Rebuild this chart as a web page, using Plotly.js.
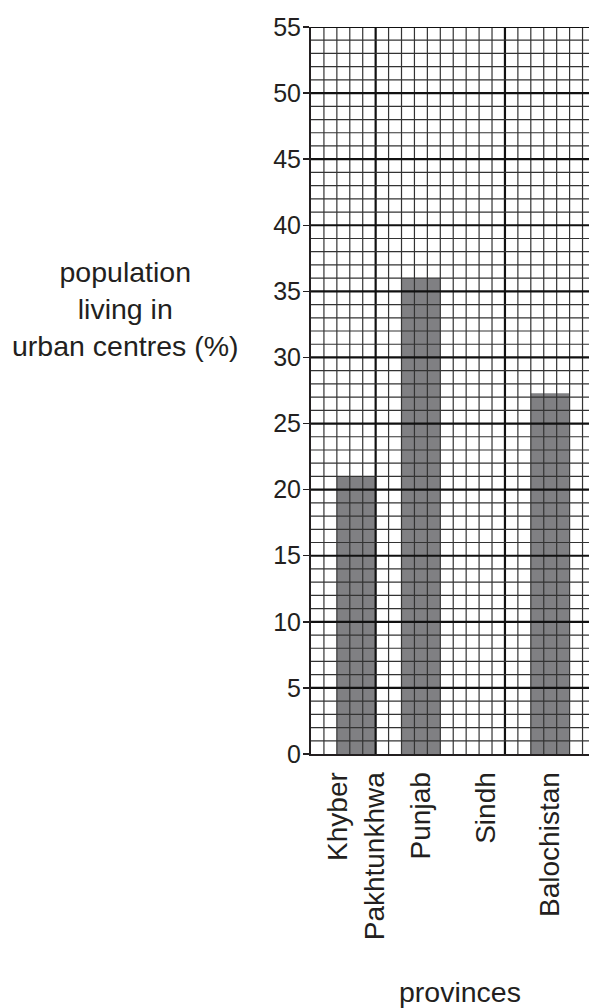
<!DOCTYPE html>
<html><head><meta charset="utf-8">
<script src="https://cdn.plot.ly/plotly-3.0.1.min.js"></script>
<style>html,body{margin:0;padding:0;background:#fff}#chart{width:589px;height:1008px}</style>
</head><body><div id="chart"></div>
<script>
// Data
const provinces = ['Khyber<br>Pakhtunkhwa', 'Punjab', 'Sindh', 'Balochistan'];
const urbanPercent = [21, 36, null, 27.3];
const yTickVals = [0, 5, 10, 15, 20, 25, 30, 35, 40, 45, 50, 55];
const yTickText = ['0', '5', '10', '15', '20', '25', '30', '35', '40', '45', '50', '55'];

// Graph-paper geometry (each category spans 5 small squares)
const squaresPerCat = 5, firstCentre = 3.5, nCols = 21, colsShown = 21.5, yMax = 55;
const toCat = g => (g - firstCentre) / squaresPerCat;
const FONT = 'Liberation Sans, Arial, sans-serif';
const INK = '#231f20';

const shapes = [];
for (let g = 1; g <= nCols; g++) {
  const major = (g === 5 || g === 15);
  shapes.push({type: 'line', layer: 'above', xref: 'x', yref: 'y',
    x0: toCat(g), x1: toCat(g), y0: 0, y1: yMax,
    line: {color: major ? '#111' : '#333', width: major ? 2.2 : 1.2}});
}
for (let h = 1; h <= yMax; h++) {
  const major = h % 5 === 0;
  shapes.push({type: 'line', layer: 'above', xref: 'paper', yref: 'y',
    x0: 0, x1: 1, y0: h, y1: h,
    line: {color: major ? '#111' : '#333', width: major ? 2.2 : 1.2}});
}

const trace = {
  type: 'bar', x: provinces, y: urbanPercent,
  marker: {color: '#808083', line: {width: 0}},
  hoverinfo: 'skip'
};

const layout = {
  width: 589, height: 1008,
  margin: {l: 311, r: 0, t: 27, b: 254},
  paper_bgcolor: '#fff', plot_bgcolor: '#fff',
  showlegend: false, bargap: 0.4,
  font: {family: FONT, color: INK},
  xaxis: {
    type: 'category', range: [toCat(0), toCat(colsShown)],
    showgrid: false, zeroline: false,
    showline: true, linecolor: INK, linewidth: 2,
    ticks: '', tickangle: -90, ticklabelstandoff: 5,
    tickfont: {size: 28, family: FONT, color: INK}
  },
  yaxis: {
    range: [0, yMax], tickvals: yTickVals, ticktext: yTickText,
    showgrid: false, zeroline: false,
    showline: true, linecolor: INK, linewidth: 2,
    ticks: 'outside', ticklen: 6, tickwidth: 1.5, tickcolor: INK,
    ticklabelstandoff: -3,
    tickfont: {size: 25, family: FONT, color: INK}
  },
  shapes: shapes,
  annotations: [
    {text: 'population<br>living in<br>urban centres (%)', xref: 'paper', yref: 'paper',
     x: -0.669, y: 0.6125, xanchor: 'center', yanchor: 'middle', showarrow: false,
     font: {size: 28.5, family: FONT, color: INK}},
    {text: 'provinces', xref: 'paper', yref: 'paper',
     x: 0.536, y: -0.327, xanchor: 'center', yanchor: 'middle', showarrow: false,
     font: {size: 28.5, family: FONT, color: INK}}
  ]
};

Plotly.newPlot('chart', [trace], layout, {staticPlot: true, displayModeBar: false});
</script>
</body></html>
